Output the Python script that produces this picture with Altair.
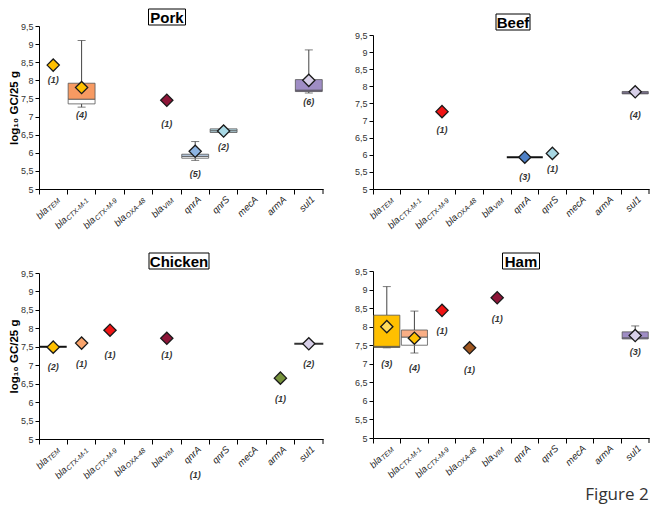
import math
import altair as alt
import pandas as pd

GENES = ["blaTEM", "blaCTX-M-1", "blaCTX-M-9", "blaOXA-48", "blaVIM",
         "qnrA", "qnrS", "mecA", "armA", "sul1"]
LABEL_MAIN = ["bla", "bla", "bla", "bla", "bla", "qnrA", "qnrS", "mecA", "armA", "sul1"]
LABEL_SUB = ["TEM", "CTX-M-1", "CTX-M-9", "OXA-48", "VIM", "", "", "", "", ""]
Y_TICKS = [5, 5.5, 6, 6.5, 7, 7.5, 8, 8.5, 9, 9.5]
Y_TITLE = "log\u2081\u2080 GC/25 g"

# ---------------- Pork ----------------
PORK_MEAN = [8.42, 7.80, None, None, 7.45, 6.04, 6.60, None, None, 8.00]
PORK_N = [1, 4, None, None, 1, 5, 2, None, None, 6]
PORK_N_Y = [8.00, 7.05, None, None, 6.80, 5.41, 6.17, None, None, 7.40]
PORK_BOX_GENE = ["blaCTX-M-1", "qnrA", "qnrS", "sul1"]
PORK_BOX_MIN = [7.26, 5.79, 6.56, 7.65]
PORK_BOX_Q1 = [7.35, 5.85, 6.56, 7.69]
PORK_BOX_MED = [7.48, 5.90, 6.61, 7.73]
PORK_BOX_Q3 = [7.92, 5.96, 6.66, 8.02]
PORK_BOX_MAX = [9.10, 6.31, 6.66, 8.84]
PORK_LINE_GENE = []
PORK_LINE_VAL = []

# ---------------- Beef ----------------
BEEF_MEAN = [None, None, 7.26, None, None, 5.93, 6.04, None, None, 7.84]
BEEF_N = [None, None, 1, None, None, 3, 1, None, None, 4]
BEEF_N_Y = [None, None, 6.71, None, None, 5.35, 5.57, None, None, 7.17]
BEEF_BOX_GENE = ["sul1"]
BEEF_BOX_MIN = [7.78]
BEEF_BOX_Q1 = [7.78]
BEEF_BOX_MED = [7.81]
BEEF_BOX_Q3 = [7.85]
BEEF_BOX_MAX = [7.85]
BEEF_LINE_GENE = ["qnrA"]
BEEF_LINE_VAL = [5.93]

# ---------------- Chicken ----------------
CHICKEN_MEAN = [7.49, 7.60, 7.95, None, 7.73, None, None, None, 6.65, 7.58]
CHICKEN_N = [2, 1, 1, None, 1, 1, None, None, 1, 2]
CHICKEN_N_Y = [6.95, 7.03, 7.27, None, 7.27, 4.02, None, None, 6.08, 7.03]
CHICKEN_BOX_GENE = []
CHICKEN_BOX_MIN = []
CHICKEN_BOX_Q1 = []
CHICKEN_BOX_MED = []
CHICKEN_BOX_Q3 = []
CHICKEN_BOX_MAX = []
CHICKEN_LINE_GENE = ["blaTEM", "sul1"]
CHICKEN_LINE_VAL = [7.50, 7.58]

# ---------------- Ham ----------------
HAM_MEAN = [8.00, 7.69, 8.44, 7.43, 8.78, None, None, None, None, 7.76]
HAM_N = [3, 4, 1, 1, 1, None, None, None, None, 3]
HAM_N_Y = [6.99, 6.89, 7.88, 6.84, 8.20, None, None, None, None, 7.31]
HAM_BOX_GENE = ["blaTEM", "blaCTX-M-1", "sul1"]
HAM_BOX_MIN = [7.43, 7.29, 7.67]
HAM_BOX_Q1 = [7.44, 7.50, 7.67]
HAM_BOX_MED = [7.47, 7.72, 7.70]
HAM_BOX_Q3 = [8.31, 7.91, 7.86]
HAM_BOX_MAX = [9.08, 8.42, 8.02]
HAM_LINE_GENE = []
HAM_LINE_VAL = []

# ---------------- styles ----------------
GOLD = "#FFC000"
LORANGE = "#F9A46C"
RED = "#F01414"
BROWN = "#A0561E"
MAROON = "#8E1538"
LBLUE = "#8DB4E2"
BLUE = "#4F81C7"
CYAN = "#A8D8E4"
OLIVE = "#77933C"
LAV = "#D7CFE8"
PURPLE = "#9F8DC5"
DPURPLE = "#7F68A8"

PORK_DCOL = {"blaTEM": GOLD, "blaCTX-M-1": GOLD, "blaVIM": MAROON, "qnrA": LBLUE, "qnrS": CYAN, "sul1": LAV}
BEEF_DCOL = {"blaCTX-M-9": RED, "qnrA": BLUE, "qnrS": CYAN, "sul1": LAV}
CHICKEN_DCOL = {"blaTEM": GOLD, "blaCTX-M-1": LORANGE, "blaCTX-M-9": RED, "blaVIM": MAROON, "armA": OLIVE, "sul1": LAV}
HAM_DCOL = {"blaTEM": "#FFDB5C", "blaCTX-M-1": GOLD, "blaCTX-M-9": RED, "blaOXA-48": BROWN, "blaVIM": MAROON, "sul1": LAV}

PORK_BFILL = {"blaCTX-M-1": ("#FFFFFF", "#F79A62"), "qnrA": ("#FFFFFF", "#B8CCE4"),
              "qnrS": ("#B7D9E5", "#B7D9E5"), "sul1": (DPURPLE, PURPLE)}
BEEF_BFILL = {"sul1": (DPURPLE, PURPLE)}
CHICKEN_BFILL = {}
HAM_BFILL = {"blaTEM": ("#7F6000", GOLD), "blaCTX-M-1": ("#FFFFFF", "#F9AE85"), "sul1": (PURPLE, PURPLE)}

BEEF_LSTYLE = {"qnrA": ("#111111", 36)}
CHICKEN_LSTYLE = {"blaTEM": ("#111111", 27), "sul1": ("#333333", 29)}

FONT = "Liberation Sans, Arial, sans-serif"

CHAR_W = {"T": .611, "E": .667, "M": .833, "C": .722, "X": .667, "-": .333, "1": .556,
          "9": .556, "O": .778, "A": .667, "4": .556, "8": .556, "V": .667, "I": .278}
SUB_SIZE = 7
MAIN_SIZE = 9.5
ANG = 315
C45 = math.sqrt(0.5)


def text_w(s, size):
    return sum(CHAR_W.get(c, 0.6) for c in s) * size


def panel(mean, ns, nys, dcol, bgene, bmin, bq1, bmed, bq3, bmax, bfill,
          lgene, lval, lstyle, W, H, ytitle, title, title_cx, title_w, title_top,
          y_top=0, figure_label=False):
    xs = alt.Scale(type="band", domain=GENES, paddingInner=0, paddingOuter=0)
    xa = alt.Axis(title=None, labels=False, bandPosition=0, tickSize=5, tickColor="#000",
                  domainColor="#000", grid=False)
    X = alt.X("gene:N", scale=xs, axis=xa)
    ya_kwargs = dict(values=Y_TICKS, labelExpr="replace(toString(datum.value), '.', ',')",
                     tickSize=4, tickColor="#000", domainColor="#000", grid=False,
                     labelFont=FONT, labelFontSize=9, labelColor="#333", labelPadding=2)
    if ytitle:
        ya_kwargs.update(title=ytitle, titleFont=FONT, titleFontSize=11.5, titleFontWeight="bold",
                         titleColor="#000", titlePadding=1)
    else:
        ya_kwargs.update(title=None)
    ys = alt.Scale(domain=[5, 9.5], nice=False, zero=False, range=[H, y_top])
    ya = alt.Axis(**ya_kwargs)

    def Y(f):
        return alt.Y(f, scale=ys, axis=ya)

    layers = []
    # boxes
    if bgene:
        bdf = pd.DataFrame({"gene": bgene, "lo": bmin, "q1": bq1, "med": bmed, "q3": bq3, "hi": bmax})
        bdf["flo"] = [bfill[g][0] for g in bgene]
        bdf["fhi"] = [bfill[g][1] for g in bgene]
        up = bdf[bdf["hi"] > bdf["q3"]]
        dn = bdf[bdf["lo"] < bdf["q1"]]
        if len(up):
            layers.append(alt.Chart(up).mark_rule(color="#444", strokeWidth=1).encode(
                x=X, y=Y("q3:Q"), y2="hi:Q"))
            layers.append(alt.Chart(up).mark_tick(color="#444", size=8, thickness=1).encode(
                x=X, y=Y("hi:Q")))
        if len(dn):
            layers.append(alt.Chart(dn).mark_rule(color="#444", strokeWidth=1).encode(
                x=X, y=Y("lo:Q"), y2="q1:Q"))
            layers.append(alt.Chart(dn).mark_tick(color="#444", size=8, thickness=1).encode(
                x=X, y=Y("lo:Q")))
        bw = W / 10 - 1.5
        layers.append(alt.Chart(bdf).mark_bar(size=bw, stroke="#555", strokeWidth=0.8).encode(
            x=X, y=Y("q1:Q"), y2="med:Q", fill=alt.Fill("flo:N", scale=None)))
        layers.append(alt.Chart(bdf).mark_bar(size=bw, stroke="#555", strokeWidth=0.8).encode(
            x=X, y=Y("med:Q"), y2="q3:Q", fill=alt.Fill("fhi:N", scale=None)))
    # single-value lines
    for g, v in zip(lgene, lval):
        col, sz = lstyle[g]
        ldf = pd.DataFrame({"gene": [g], "v": [v]})
        layers.append(alt.Chart(ldf).mark_tick(size=sz, thickness=2, color=col, opacity=1).encode(
            x=X, y=Y("v:Q")))
    # diamonds
    ddf = pd.DataFrame({"gene": GENES, "v": mean})
    ddf = ddf.dropna()
    ddf["c"] = [dcol[g] for g in ddf["gene"]]
    layers.append(alt.Chart(ddf).mark_point(shape="diamond", filled=True, size=150, opacity=1,
                                            stroke="#1a1a1a", strokeWidth=1.3).encode(
        x=X, y=Y("v:Q"), fill=alt.Fill("c:N", scale=None)))
    # n labels
    ndf = pd.DataFrame({"gene": GENES, "n": ns, "ny": nys}).dropna()
    ndf["t"] = ["(%d)" % int(n) for n in ndf["n"]]
    layers.append(alt.Chart(ndf).mark_text(font=FONT, fontSize=9, fontStyle="italic",
                                           fontWeight="bold", color="#333").encode(
        x=X, y=Y("ny:Q"), text="t:N"))
    # x-axis labels (text with subscripts), rotated 45 degrees
    base_y = H + 11
    OX = 6.5
    lab = dict(angle=ANG, align="right", baseline="alphabetic", font=FONT,
               fontStyle="italic", color="#222")
    pdf = pd.DataFrame({"gene": GENES[5:], "t": LABEL_MAIN[5:]})
    layers.append(alt.Chart(pdf).mark_text(fontSize=MAIN_SIZE, xOffset=OX, yOffset=0, **lab).encode(
        x=X, y=alt.value(base_y), text="t:N"))
    for g, m, s in zip(GENES[:5], LABEL_MAIN[:5], LABEL_SUB[:5]):
        w = text_w(s, SUB_SIZE) + 0.5
        sdf = pd.DataFrame({"gene": [g], "t": [s]})
        mdf = pd.DataFrame({"gene": [g], "t": [m]})
        layers.append(alt.Chart(sdf).mark_text(fontSize=SUB_SIZE, xOffset=OX + 1.0, yOffset=1.0,
                                               **lab).encode(
            x=X, y=alt.value(base_y), text="t:N"))
        layers.append(alt.Chart(mdf).mark_text(fontSize=MAIN_SIZE, xOffset=OX - w * C45,
                                               yOffset=w * C45, **lab).encode(
            x=X, y=alt.value(base_y), text="t:N"))
    # right-end tick
    one = pd.DataFrame({"k": [0]})
    layers.append(alt.Chart(one).mark_rule(color="#000").encode(
        x=alt.value(W), y=alt.value(H), y2=alt.value(H + 5)))
    # title box
    layers.append(alt.Chart(one).mark_rect(fill="white", stroke="#000", strokeWidth=1).encode(
        x=alt.value(title_cx - title_w / 2), x2=alt.value(title_cx + title_w / 2),
        y=alt.value(title_top), y2=alt.value(title_top + 16)))
    layers.append(alt.Chart(one).mark_text(font=FONT, fontSize=15, fontWeight="bold",
                                           color="#000", baseline="middle").encode(
        x=alt.value(title_cx), y=alt.value(title_top + 8.5), text=alt.value(title)))
    if figure_label:
        layers.append(alt.Chart(one).mark_text(font="Open Sans, Lato, sans-serif", fontSize=17,
                                               color="#333", align="center").encode(
            x=alt.value(244), y=alt.value(H + 57), text=alt.value("Figure 2")))
    return alt.layer(*layers).properties(width=W, height=H)


pork = panel(PORK_MEAN, PORK_N, PORK_N_Y, PORK_DCOL, PORK_BOX_GENE, PORK_BOX_MIN, PORK_BOX_Q1,
             PORK_BOX_MED, PORK_BOX_Q3, PORK_BOX_MAX, PORK_BFILL, PORK_LINE_GENE, PORK_LINE_VAL, {},
             284, 163, Y_TITLE, "Pork", 128, 37, -17)
beef = panel(BEEF_MEAN, BEEF_N, BEEF_N_Y, BEEF_DCOL, BEEF_BOX_GENE, BEEF_BOX_MIN, BEEF_BOX_Q1,
             BEEF_BOX_MED, BEEF_BOX_Q3, BEEF_BOX_MAX, BEEF_BFILL, BEEF_LINE_GENE, BEEF_LINE_VAL,
             BEEF_LSTYLE, 276, 163, None, "Beef", 140, 34, -12, y_top=9)
chicken = panel(CHICKEN_MEAN, CHICKEN_N, CHICKEN_N_Y, CHICKEN_DCOL, CHICKEN_BOX_GENE, CHICKEN_BOX_MIN,
                CHICKEN_BOX_Q1, CHICKEN_BOX_MED, CHICKEN_BOX_Q3, CHICKEN_BOX_MAX, CHICKEN_BFILL,
                CHICKEN_LINE_GENE, CHICKEN_LINE_VAL, CHICKEN_LSTYLE, 284, 166, Y_TITLE, "Chicken",
                140, 60, -20)
ham = panel(HAM_MEAN, HAM_N, HAM_N_Y, HAM_DCOL, HAM_BOX_GENE, HAM_BOX_MIN, HAM_BOX_Q1, HAM_BOX_MED,
            HAM_BOX_Q3, HAM_BOX_MAX, HAM_BFILL, HAM_LINE_GENE, HAM_LINE_VAL, {}, 276, 165, None,
            "Ham", 148, 37, -20, y_top=-2, figure_label=True)

chart = alt.vconcat(
    alt.hconcat(pork, beef, spacing=30),
    alt.hconcat(chicken, ham, spacing=30),
    spacing=21,
).properties(padding={"left": 0, "top": 0, "right": 0, "bottom": 3},
             background="white").configure_view(stroke=None)

chart.save("out.html", embed_options={"renderer": "svg", "actions": False})
